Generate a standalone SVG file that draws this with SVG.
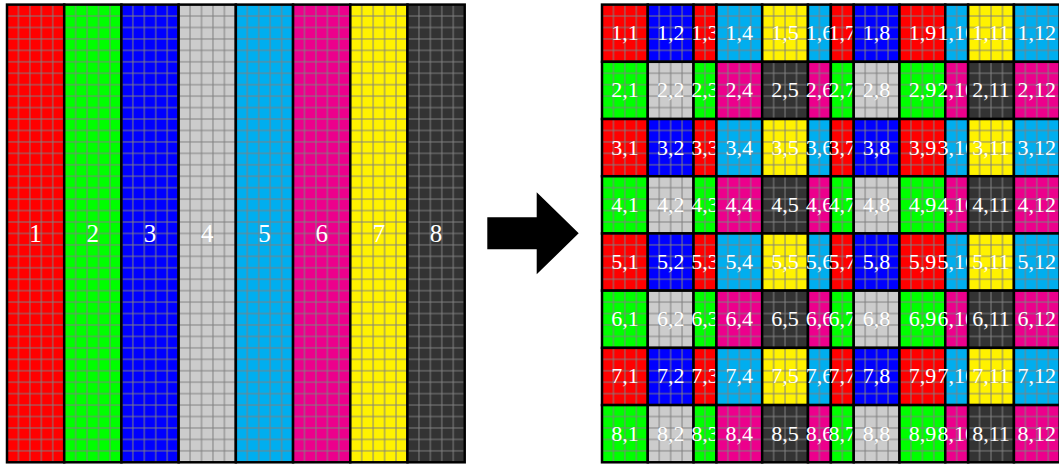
<svg xmlns="http://www.w3.org/2000/svg" width="1059" height="464" viewBox="0 0 1059 464">
<defs>
<pattern id="grid" patternUnits="userSpaceOnUse" x="5.721" y="5.721" width="11.4423" height="11.4423"><path d="M5.721,0V11.4423M0,5.721H11.4423" stroke="#808080" stroke-width="1" fill="none"/></pattern>
<style>
.k1{fill:#ff0000}.k2{fill:#00ff00}.k3{fill:#0000ff}.k4{fill:#cccccc}.k5{fill:#00aeef}.k6{fill:#ec008c}.k7{fill:#fff200}.k8{fill:#333333}
.gr{fill:url(#grid);stroke:#000;stroke-width:2.5}
text{fill:#fff;font-family:"Liberation Serif","DejaVu Serif",serif;text-anchor:middle}
.t{font-size:22px}.tl{font-size:25px}
</style>
</defs>
<rect width="1059" height="464" fill="#fff"/>
<g id="left">
<g id="col1" transform="translate(7,4.6)"><rect class="k1" width="57.21" height="457.69"/><rect class="gr" width="57.21" height="457.69"/><text class="tl" x="28.6" y="237.1">1</text></g>
<g id="col2" transform="translate(64.21,4.6)"><rect class="k2" width="57.21" height="457.69"/><rect class="gr" width="57.21" height="457.69"/><text class="tl" x="28.6" y="237.1">2</text></g>
<g id="col3" transform="translate(121.42,4.6)"><rect class="k3" width="57.21" height="457.69"/><rect class="gr" width="57.21" height="457.69"/><text class="tl" x="28.6" y="237.1">3</text></g>
<g id="col4" transform="translate(178.63,4.6)"><rect class="k4" width="57.21" height="457.69"/><rect class="gr" width="57.21" height="457.69"/><text class="tl" x="28.6" y="237.1">4</text></g>
<g id="col5" transform="translate(235.85,4.6)"><rect class="k5" width="57.21" height="457.69"/><rect class="gr" width="57.21" height="457.69"/><text class="tl" x="28.6" y="237.1">5</text></g>
<g id="col6" transform="translate(293.06,4.6)"><rect class="k6" width="57.21" height="457.69"/><rect class="gr" width="57.21" height="457.69"/><text class="tl" x="28.6" y="237.1">6</text></g>
<g id="col7" transform="translate(350.27,4.6)"><rect class="k7" width="57.21" height="457.69"/><rect class="gr" width="57.21" height="457.69"/><text class="tl" x="28.6" y="237.1">7</text></g>
<g id="col8" transform="translate(407.48,4.6)"><rect class="k8" width="57.21" height="457.69"/><rect class="gr" width="57.21" height="457.69"/><text class="tl" x="28.6" y="237.1">8</text></g>
</g>
<g id="connectors">
<polygon points="487.3,217.3 536.7,217.3 536.7,192.3 578.7,233.3 536.7,274.3 536.7,249.3 487.3,249.3" fill="#000"/>
</g>
<g id="right">
<g id="r1c1" transform="translate(602,4.6)"><rect class="k1" width="45.77" height="57.21"/><rect class="gr" width="45.77" height="57.21"/><text class="t" x="22.88" y="35.6">1,1</text></g>
<g id="r1c2" transform="translate(647.77,4.6)"><rect class="k3" width="45.77" height="57.21"/><rect class="gr" width="45.77" height="57.21"/><text class="t" x="22.88" y="35.6">1,2</text></g>
<g id="r1c3" transform="translate(693.54,4.6)"><rect class="k1" width="22.88" height="57.21"/><rect class="gr" width="22.88" height="57.21"/><text class="t" x="11.44" y="35.6">1,3</text></g>
<g id="r1c4" transform="translate(716.42,4.6)"><rect class="k5" width="45.77" height="57.21"/><rect class="gr" width="45.77" height="57.21"/><text class="t" x="22.88" y="35.6">1,4</text></g>
<g id="r1c5" transform="translate(762.19,4.6)"><rect class="k7" width="45.77" height="57.21"/><rect class="gr" width="45.77" height="57.21"/><text class="t" x="22.88" y="35.6">1,5</text></g>
<g id="r1c6" transform="translate(807.96,4.6)"><rect class="k5" width="22.88" height="57.21"/><rect class="gr" width="22.88" height="57.21"/><text class="t" x="11.44" y="35.6">1,6</text></g>
<g id="r1c7" transform="translate(830.85,4.6)"><rect class="k1" width="22.88" height="57.21"/><rect class="gr" width="22.88" height="57.21"/><text class="t" x="11.44" y="35.6">1,7</text></g>
<g id="r1c8" transform="translate(853.73,4.6)"><rect class="k3" width="45.77" height="57.21"/><rect class="gr" width="45.77" height="57.21"/><text class="t" x="22.88" y="35.6">1,8</text></g>
<g id="r1c9" transform="translate(899.5,4.6)"><rect class="k1" width="45.77" height="57.21"/><rect class="gr" width="45.77" height="57.21"/><text class="t" x="22.88" y="35.6">1,9</text></g>
<g id="r1c10" transform="translate(945.27,4.6)"><rect class="k5" width="22.88" height="57.21"/><rect class="gr" width="22.88" height="57.21"/><text class="t" x="11.44" y="35.6">1,10</text></g>
<g id="r1c11" transform="translate(968.15,4.6)"><rect class="k7" width="45.77" height="57.21"/><rect class="gr" width="45.77" height="57.21"/><text class="t" x="22.88" y="35.6">1,11</text></g>
<g id="r1c12" transform="translate(1013.92,4.6)"><rect class="k5" width="45.77" height="57.21"/><rect class="gr" width="45.77" height="57.21"/><text class="t" x="22.88" y="35.6">1,12</text></g>

<g id="r2c1" transform="translate(602,61.81)"><rect class="k2" width="45.77" height="57.21"/><rect class="gr" width="45.77" height="57.21"/><text class="t" x="22.88" y="35.6">2,1</text></g>
<g id="r2c2" transform="translate(647.77,61.81)"><rect class="k4" width="45.77" height="57.21"/><rect class="gr" width="45.77" height="57.21"/><text class="t" x="22.88" y="35.6">2,2</text></g>
<g id="r2c3" transform="translate(693.54,61.81)"><rect class="k2" width="22.88" height="57.21"/><rect class="gr" width="22.88" height="57.21"/><text class="t" x="11.44" y="35.6">2,3</text></g>
<g id="r2c4" transform="translate(716.42,61.81)"><rect class="k6" width="45.77" height="57.21"/><rect class="gr" width="45.77" height="57.21"/><text class="t" x="22.88" y="35.6">2,4</text></g>
<g id="r2c5" transform="translate(762.19,61.81)"><rect class="k8" width="45.77" height="57.21"/><rect class="gr" width="45.77" height="57.21"/><text class="t" x="22.88" y="35.6">2,5</text></g>
<g id="r2c6" transform="translate(807.96,61.81)"><rect class="k6" width="22.88" height="57.21"/><rect class="gr" width="22.88" height="57.21"/><text class="t" x="11.44" y="35.6">2,6</text></g>
<g id="r2c7" transform="translate(830.85,61.81)"><rect class="k2" width="22.88" height="57.21"/><rect class="gr" width="22.88" height="57.21"/><text class="t" x="11.44" y="35.6">2,7</text></g>
<g id="r2c8" transform="translate(853.73,61.81)"><rect class="k4" width="45.77" height="57.21"/><rect class="gr" width="45.77" height="57.21"/><text class="t" x="22.88" y="35.6">2,8</text></g>
<g id="r2c9" transform="translate(899.5,61.81)"><rect class="k2" width="45.77" height="57.21"/><rect class="gr" width="45.77" height="57.21"/><text class="t" x="22.88" y="35.6">2,9</text></g>
<g id="r2c10" transform="translate(945.27,61.81)"><rect class="k6" width="22.88" height="57.21"/><rect class="gr" width="22.88" height="57.21"/><text class="t" x="11.44" y="35.6">2,10</text></g>
<g id="r2c11" transform="translate(968.15,61.81)"><rect class="k8" width="45.77" height="57.21"/><rect class="gr" width="45.77" height="57.21"/><text class="t" x="22.88" y="35.6">2,11</text></g>
<g id="r2c12" transform="translate(1013.92,61.81)"><rect class="k6" width="45.77" height="57.21"/><rect class="gr" width="45.77" height="57.21"/><text class="t" x="22.88" y="35.6">2,12</text></g>

<g id="r3c1" transform="translate(602,119.02)"><rect class="k1" width="45.77" height="57.21"/><rect class="gr" width="45.77" height="57.21"/><text class="t" x="22.88" y="35.6">3,1</text></g>
<g id="r3c2" transform="translate(647.77,119.02)"><rect class="k3" width="45.77" height="57.21"/><rect class="gr" width="45.77" height="57.21"/><text class="t" x="22.88" y="35.6">3,2</text></g>
<g id="r3c3" transform="translate(693.54,119.02)"><rect class="k1" width="22.88" height="57.21"/><rect class="gr" width="22.88" height="57.21"/><text class="t" x="11.44" y="35.6">3,3</text></g>
<g id="r3c4" transform="translate(716.42,119.02)"><rect class="k5" width="45.77" height="57.21"/><rect class="gr" width="45.77" height="57.21"/><text class="t" x="22.88" y="35.6">3,4</text></g>
<g id="r3c5" transform="translate(762.19,119.02)"><rect class="k7" width="45.77" height="57.21"/><rect class="gr" width="45.77" height="57.21"/><text class="t" x="22.88" y="35.6">3,5</text></g>
<g id="r3c6" transform="translate(807.96,119.02)"><rect class="k5" width="22.88" height="57.21"/><rect class="gr" width="22.88" height="57.21"/><text class="t" x="11.44" y="35.6">3,6</text></g>
<g id="r3c7" transform="translate(830.85,119.02)"><rect class="k1" width="22.88" height="57.21"/><rect class="gr" width="22.88" height="57.21"/><text class="t" x="11.44" y="35.6">3,7</text></g>
<g id="r3c8" transform="translate(853.73,119.02)"><rect class="k3" width="45.77" height="57.21"/><rect class="gr" width="45.77" height="57.21"/><text class="t" x="22.88" y="35.6">3,8</text></g>
<g id="r3c9" transform="translate(899.5,119.02)"><rect class="k1" width="45.77" height="57.21"/><rect class="gr" width="45.77" height="57.21"/><text class="t" x="22.88" y="35.6">3,9</text></g>
<g id="r3c10" transform="translate(945.27,119.02)"><rect class="k5" width="22.88" height="57.21"/><rect class="gr" width="22.88" height="57.21"/><text class="t" x="11.44" y="35.6">3,10</text></g>
<g id="r3c11" transform="translate(968.15,119.02)"><rect class="k7" width="45.77" height="57.21"/><rect class="gr" width="45.77" height="57.21"/><text class="t" x="22.88" y="35.6">3,11</text></g>
<g id="r3c12" transform="translate(1013.92,119.02)"><rect class="k5" width="45.77" height="57.21"/><rect class="gr" width="45.77" height="57.21"/><text class="t" x="22.88" y="35.6">3,12</text></g>

<g id="r4c1" transform="translate(602,176.23)"><rect class="k2" width="45.77" height="57.21"/><rect class="gr" width="45.77" height="57.21"/><text class="t" x="22.88" y="35.6">4,1</text></g>
<g id="r4c2" transform="translate(647.77,176.23)"><rect class="k4" width="45.77" height="57.21"/><rect class="gr" width="45.77" height="57.21"/><text class="t" x="22.88" y="35.6">4,2</text></g>
<g id="r4c3" transform="translate(693.54,176.23)"><rect class="k2" width="22.88" height="57.21"/><rect class="gr" width="22.88" height="57.21"/><text class="t" x="11.44" y="35.6">4,3</text></g>
<g id="r4c4" transform="translate(716.42,176.23)"><rect class="k6" width="45.77" height="57.21"/><rect class="gr" width="45.77" height="57.21"/><text class="t" x="22.88" y="35.6">4,4</text></g>
<g id="r4c5" transform="translate(762.19,176.23)"><rect class="k8" width="45.77" height="57.21"/><rect class="gr" width="45.77" height="57.21"/><text class="t" x="22.88" y="35.6">4,5</text></g>
<g id="r4c6" transform="translate(807.96,176.23)"><rect class="k6" width="22.88" height="57.21"/><rect class="gr" width="22.88" height="57.21"/><text class="t" x="11.44" y="35.6">4,6</text></g>
<g id="r4c7" transform="translate(830.85,176.23)"><rect class="k2" width="22.88" height="57.21"/><rect class="gr" width="22.88" height="57.21"/><text class="t" x="11.44" y="35.6">4,7</text></g>
<g id="r4c8" transform="translate(853.73,176.23)"><rect class="k4" width="45.77" height="57.21"/><rect class="gr" width="45.77" height="57.21"/><text class="t" x="22.88" y="35.6">4,8</text></g>
<g id="r4c9" transform="translate(899.5,176.23)"><rect class="k2" width="45.77" height="57.21"/><rect class="gr" width="45.77" height="57.21"/><text class="t" x="22.88" y="35.6">4,9</text></g>
<g id="r4c10" transform="translate(945.27,176.23)"><rect class="k6" width="22.88" height="57.21"/><rect class="gr" width="22.88" height="57.21"/><text class="t" x="11.44" y="35.6">4,10</text></g>
<g id="r4c11" transform="translate(968.15,176.23)"><rect class="k8" width="45.77" height="57.21"/><rect class="gr" width="45.77" height="57.21"/><text class="t" x="22.88" y="35.6">4,11</text></g>
<g id="r4c12" transform="translate(1013.92,176.23)"><rect class="k6" width="45.77" height="57.21"/><rect class="gr" width="45.77" height="57.21"/><text class="t" x="22.88" y="35.6">4,12</text></g>

<g id="r5c1" transform="translate(602,233.45)"><rect class="k1" width="45.77" height="57.21"/><rect class="gr" width="45.77" height="57.21"/><text class="t" x="22.88" y="35.6">5,1</text></g>
<g id="r5c2" transform="translate(647.77,233.45)"><rect class="k3" width="45.77" height="57.21"/><rect class="gr" width="45.77" height="57.21"/><text class="t" x="22.88" y="35.6">5,2</text></g>
<g id="r5c3" transform="translate(693.54,233.45)"><rect class="k1" width="22.88" height="57.21"/><rect class="gr" width="22.88" height="57.21"/><text class="t" x="11.44" y="35.6">5,3</text></g>
<g id="r5c4" transform="translate(716.42,233.45)"><rect class="k5" width="45.77" height="57.21"/><rect class="gr" width="45.77" height="57.21"/><text class="t" x="22.88" y="35.6">5,4</text></g>
<g id="r5c5" transform="translate(762.19,233.45)"><rect class="k7" width="45.77" height="57.21"/><rect class="gr" width="45.77" height="57.21"/><text class="t" x="22.88" y="35.6">5,5</text></g>
<g id="r5c6" transform="translate(807.96,233.45)"><rect class="k5" width="22.88" height="57.21"/><rect class="gr" width="22.88" height="57.21"/><text class="t" x="11.44" y="35.6">5,6</text></g>
<g id="r5c7" transform="translate(830.85,233.45)"><rect class="k1" width="22.88" height="57.21"/><rect class="gr" width="22.88" height="57.21"/><text class="t" x="11.44" y="35.6">5,7</text></g>
<g id="r5c8" transform="translate(853.73,233.45)"><rect class="k3" width="45.77" height="57.21"/><rect class="gr" width="45.77" height="57.21"/><text class="t" x="22.88" y="35.6">5,8</text></g>
<g id="r5c9" transform="translate(899.5,233.45)"><rect class="k1" width="45.77" height="57.21"/><rect class="gr" width="45.77" height="57.21"/><text class="t" x="22.88" y="35.6">5,9</text></g>
<g id="r5c10" transform="translate(945.27,233.45)"><rect class="k5" width="22.88" height="57.21"/><rect class="gr" width="22.88" height="57.21"/><text class="t" x="11.44" y="35.6">5,10</text></g>
<g id="r5c11" transform="translate(968.15,233.45)"><rect class="k7" width="45.77" height="57.21"/><rect class="gr" width="45.77" height="57.21"/><text class="t" x="22.88" y="35.6">5,11</text></g>
<g id="r5c12" transform="translate(1013.92,233.45)"><rect class="k5" width="45.77" height="57.21"/><rect class="gr" width="45.77" height="57.21"/><text class="t" x="22.88" y="35.6">5,12</text></g>

<g id="r6c1" transform="translate(602,290.66)"><rect class="k2" width="45.77" height="57.21"/><rect class="gr" width="45.77" height="57.21"/><text class="t" x="22.88" y="35.6">6,1</text></g>
<g id="r6c2" transform="translate(647.77,290.66)"><rect class="k4" width="45.77" height="57.21"/><rect class="gr" width="45.77" height="57.21"/><text class="t" x="22.88" y="35.6">6,2</text></g>
<g id="r6c3" transform="translate(693.54,290.66)"><rect class="k2" width="22.88" height="57.21"/><rect class="gr" width="22.88" height="57.21"/><text class="t" x="11.44" y="35.6">6,3</text></g>
<g id="r6c4" transform="translate(716.42,290.66)"><rect class="k6" width="45.77" height="57.21"/><rect class="gr" width="45.77" height="57.21"/><text class="t" x="22.88" y="35.6">6,4</text></g>
<g id="r6c5" transform="translate(762.19,290.66)"><rect class="k8" width="45.77" height="57.21"/><rect class="gr" width="45.77" height="57.21"/><text class="t" x="22.88" y="35.6">6,5</text></g>
<g id="r6c6" transform="translate(807.96,290.66)"><rect class="k6" width="22.88" height="57.21"/><rect class="gr" width="22.88" height="57.21"/><text class="t" x="11.44" y="35.6">6,6</text></g>
<g id="r6c7" transform="translate(830.85,290.66)"><rect class="k2" width="22.88" height="57.21"/><rect class="gr" width="22.88" height="57.21"/><text class="t" x="11.44" y="35.6">6,7</text></g>
<g id="r6c8" transform="translate(853.73,290.66)"><rect class="k4" width="45.77" height="57.21"/><rect class="gr" width="45.77" height="57.21"/><text class="t" x="22.88" y="35.6">6,8</text></g>
<g id="r6c9" transform="translate(899.5,290.66)"><rect class="k2" width="45.77" height="57.21"/><rect class="gr" width="45.77" height="57.21"/><text class="t" x="22.88" y="35.6">6,9</text></g>
<g id="r6c10" transform="translate(945.27,290.66)"><rect class="k6" width="22.88" height="57.21"/><rect class="gr" width="22.88" height="57.21"/><text class="t" x="11.44" y="35.6">6,10</text></g>
<g id="r6c11" transform="translate(968.15,290.66)"><rect class="k8" width="45.77" height="57.21"/><rect class="gr" width="45.77" height="57.21"/><text class="t" x="22.88" y="35.6">6,11</text></g>
<g id="r6c12" transform="translate(1013.92,290.66)"><rect class="k6" width="45.77" height="57.21"/><rect class="gr" width="45.77" height="57.21"/><text class="t" x="22.88" y="35.6">6,12</text></g>

<g id="r7c1" transform="translate(602,347.87)"><rect class="k1" width="45.77" height="57.21"/><rect class="gr" width="45.77" height="57.21"/><text class="t" x="22.88" y="35.6">7,1</text></g>
<g id="r7c2" transform="translate(647.77,347.87)"><rect class="k3" width="45.77" height="57.21"/><rect class="gr" width="45.77" height="57.21"/><text class="t" x="22.88" y="35.6">7,2</text></g>
<g id="r7c3" transform="translate(693.54,347.87)"><rect class="k1" width="22.88" height="57.21"/><rect class="gr" width="22.88" height="57.21"/><text class="t" x="11.44" y="35.6">7,3</text></g>
<g id="r7c4" transform="translate(716.42,347.87)"><rect class="k5" width="45.77" height="57.21"/><rect class="gr" width="45.77" height="57.21"/><text class="t" x="22.88" y="35.6">7,4</text></g>
<g id="r7c5" transform="translate(762.19,347.87)"><rect class="k7" width="45.77" height="57.21"/><rect class="gr" width="45.77" height="57.21"/><text class="t" x="22.88" y="35.6">7,5</text></g>
<g id="r7c6" transform="translate(807.96,347.87)"><rect class="k5" width="22.88" height="57.21"/><rect class="gr" width="22.88" height="57.21"/><text class="t" x="11.44" y="35.6">7,6</text></g>
<g id="r7c7" transform="translate(830.85,347.87)"><rect class="k1" width="22.88" height="57.21"/><rect class="gr" width="22.88" height="57.21"/><text class="t" x="11.44" y="35.6">7,7</text></g>
<g id="r7c8" transform="translate(853.73,347.87)"><rect class="k3" width="45.77" height="57.21"/><rect class="gr" width="45.77" height="57.21"/><text class="t" x="22.88" y="35.6">7,8</text></g>
<g id="r7c9" transform="translate(899.5,347.87)"><rect class="k1" width="45.77" height="57.21"/><rect class="gr" width="45.77" height="57.21"/><text class="t" x="22.88" y="35.6">7,9</text></g>
<g id="r7c10" transform="translate(945.27,347.87)"><rect class="k5" width="22.88" height="57.21"/><rect class="gr" width="22.88" height="57.21"/><text class="t" x="11.44" y="35.6">7,10</text></g>
<g id="r7c11" transform="translate(968.15,347.87)"><rect class="k7" width="45.77" height="57.21"/><rect class="gr" width="45.77" height="57.21"/><text class="t" x="22.88" y="35.6">7,11</text></g>
<g id="r7c12" transform="translate(1013.92,347.87)"><rect class="k5" width="45.77" height="57.21"/><rect class="gr" width="45.77" height="57.21"/><text class="t" x="22.88" y="35.6">7,12</text></g>

<g id="r8c1" transform="translate(602,405.08)"><rect class="k2" width="45.77" height="57.21"/><rect class="gr" width="45.77" height="57.21"/><text class="t" x="22.88" y="35.6">8,1</text></g>
<g id="r8c2" transform="translate(647.77,405.08)"><rect class="k4" width="45.77" height="57.21"/><rect class="gr" width="45.77" height="57.21"/><text class="t" x="22.88" y="35.6">8,2</text></g>
<g id="r8c3" transform="translate(693.54,405.08)"><rect class="k2" width="22.88" height="57.21"/><rect class="gr" width="22.88" height="57.21"/><text class="t" x="11.44" y="35.6">8,3</text></g>
<g id="r8c4" transform="translate(716.42,405.08)"><rect class="k6" width="45.77" height="57.21"/><rect class="gr" width="45.77" height="57.21"/><text class="t" x="22.88" y="35.6">8,4</text></g>
<g id="r8c5" transform="translate(762.19,405.08)"><rect class="k8" width="45.77" height="57.21"/><rect class="gr" width="45.77" height="57.21"/><text class="t" x="22.88" y="35.6">8,5</text></g>
<g id="r8c6" transform="translate(807.96,405.08)"><rect class="k6" width="22.88" height="57.21"/><rect class="gr" width="22.88" height="57.21"/><text class="t" x="11.44" y="35.6">8,6</text></g>
<g id="r8c7" transform="translate(830.85,405.08)"><rect class="k2" width="22.88" height="57.21"/><rect class="gr" width="22.88" height="57.21"/><text class="t" x="11.44" y="35.6">8,7</text></g>
<g id="r8c8" transform="translate(853.73,405.08)"><rect class="k4" width="45.77" height="57.21"/><rect class="gr" width="45.77" height="57.21"/><text class="t" x="22.88" y="35.6">8,8</text></g>
<g id="r8c9" transform="translate(899.5,405.08)"><rect class="k2" width="45.77" height="57.21"/><rect class="gr" width="45.77" height="57.21"/><text class="t" x="22.88" y="35.6">8,9</text></g>
<g id="r8c10" transform="translate(945.27,405.08)"><rect class="k6" width="22.88" height="57.21"/><rect class="gr" width="22.88" height="57.21"/><text class="t" x="11.44" y="35.6">8,10</text></g>
<g id="r8c11" transform="translate(968.15,405.08)"><rect class="k8" width="45.77" height="57.21"/><rect class="gr" width="45.77" height="57.21"/><text class="t" x="22.88" y="35.6">8,11</text></g>
<g id="r8c12" transform="translate(1013.92,405.08)"><rect class="k6" width="45.77" height="57.21"/><rect class="gr" width="45.77" height="57.21"/><text class="t" x="22.88" y="35.6">8,12</text></g>
</g>
</svg>
